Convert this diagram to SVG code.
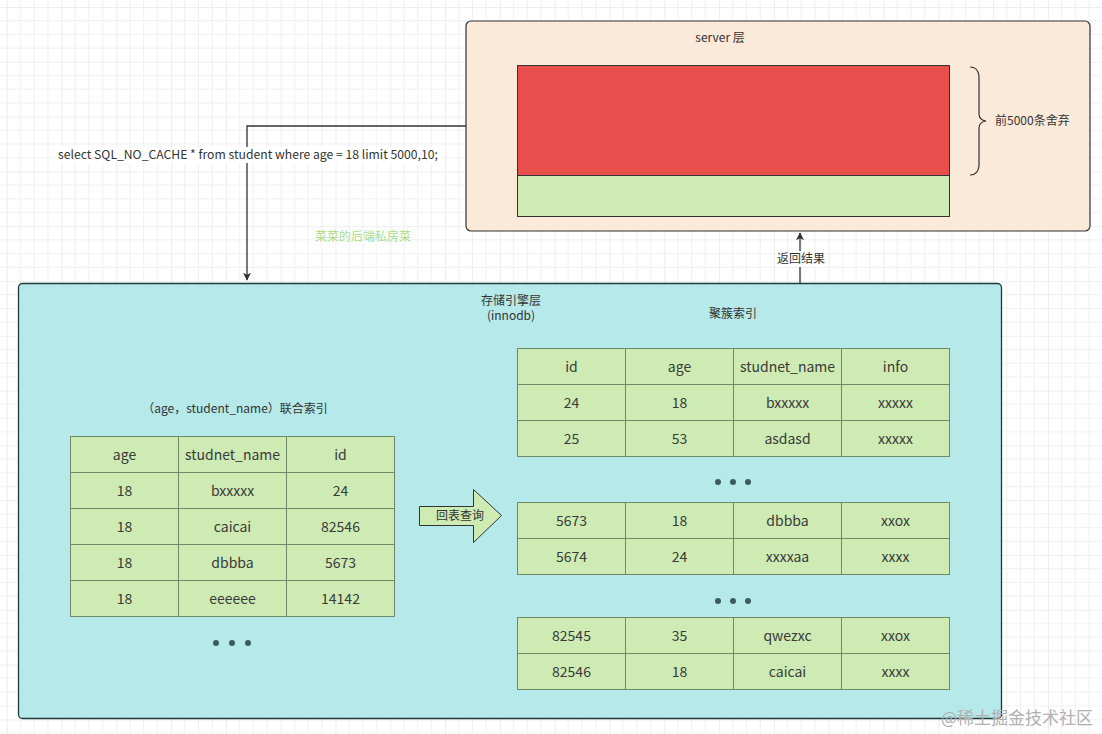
<svg xmlns="http://www.w3.org/2000/svg" width="1102" height="734" viewBox="0 0 1102 734">
<defs>
<pattern id="grid" x="6.7" y="7" width="54.8" height="54.8" patternUnits="userSpaceOnUse">
<path d="M0 0H54.8M0 13.7H54.8M0 27.4H54.8M0 41.1H54.8M0 0V54.8M13.7 0V54.8M27.4 0V54.8M41.1 0V54.8" stroke="#f0f0f0" stroke-width="1" fill="none"/>
<path d="M0 0H54.8M0 0V54.8" stroke="#e6e6e6" stroke-width="1.2" fill="none"/>
</pattern>
<marker id="arr" viewBox="0 0 10 10" refX="9" refY="5" markerWidth="8" markerHeight="10" markerUnits="userSpaceOnUse" orient="auto">
<path d="M0 0L10 5L0 10L2.5 5Z" fill="#333"/>
</marker>
<style>
text{font-family:"Noto Sans CJK SC","Noto Sans",sans-serif;fill:#333;}
.s{font-size:12px;}
.c{font-size:14px;text-anchor:middle;dominant-baseline:central;fill:#3a3a3a;}
.cell{fill:#cdebb3;stroke:#6f8867;stroke-width:1;}
.dot{fill:#3c5c5c;}
.ln{stroke:#333;stroke-width:1.3;fill:none;}
</style>
</defs>
<rect width="1102" height="734" fill="#ffffff"/>
<rect width="1102" height="734" fill="url(#grid)"/>

<g id="server-layer">
<rect x="466" y="21" width="624" height="210" rx="5" fill="#fbe9da" stroke="#333" stroke-width="1.2"/>
<text class="s" x="720" y="42" text-anchor="middle">server 层</text>
<rect x="517.5" y="65.5" width="432" height="110" fill="#e84f4c" stroke="#333" stroke-width="1"/>
<rect x="517.5" y="175.5" width="432" height="41" fill="#cdebb3" stroke="#333" stroke-width="1"/>
<path d="M970 67Q978 67 979 76V114Q979 120 986 121Q979 122 979 128V166Q978 175 970 175" fill="none" stroke="#333" stroke-width="1.2"/>
<text class="s" x="995" y="125">前5000条舍弃</text>
</g>

<g id="storage-layer">
<rect x="18.5" y="283.5" width="983" height="435" rx="4" fill="#b5e9ea" stroke="#1f3a3d" stroke-width="1.3"/>
<text class="s" x="511" y="305" text-anchor="middle">存储引擎层</text>
<text class="s" x="511" y="320" text-anchor="middle">(innodb)</text>
</g>

<g id="clustered-index">
<text class="s" x="733" y="318" text-anchor="middle">聚簇索引</text>
<g id="ct1">
<rect class="cell" x="517.5" y="348.5" width="108" height="36"/><rect class="cell" x="625.5" y="348.5" width="108" height="36"/><rect class="cell" x="733.5" y="348.5" width="108" height="36"/><rect class="cell" x="841.5" y="348.5" width="108" height="36"/>
<rect class="cell" x="517.5" y="384.5" width="108" height="36"/><rect class="cell" x="625.5" y="384.5" width="108" height="36"/><rect class="cell" x="733.5" y="384.5" width="108" height="36"/><rect class="cell" x="841.5" y="384.5" width="108" height="36"/>
<rect class="cell" x="517.5" y="420.5" width="108" height="36"/><rect class="cell" x="625.5" y="420.5" width="108" height="36"/><rect class="cell" x="733.5" y="420.5" width="108" height="36"/><rect class="cell" x="841.5" y="420.5" width="108" height="36"/>
<text class="c" x="571.5" y="365.5">id</text><text class="c" x="679.5" y="365.5">age</text><text class="c" x="787.5" y="365.5">studnet_name</text><text class="c" x="895.5" y="365.5">info</text>
<text class="c" x="571.5" y="401.5">24</text><text class="c" x="679.5" y="401.5">18</text><text class="c" x="787.5" y="401.5">bxxxxx</text><text class="c" x="895.5" y="401.5">xxxxx</text>
<text class="c" x="571.5" y="437.5">25</text><text class="c" x="679.5" y="437.5">53</text><text class="c" x="787.5" y="437.5">asdasd</text><text class="c" x="895.5" y="437.5">xxxxx</text>
</g>
<g id="dots2"><circle class="dot" cx="718" cy="482" r="3"/><circle class="dot" cx="733" cy="482" r="3"/><circle class="dot" cx="748" cy="482" r="3"/></g>
<g id="ct2">
<rect class="cell" x="517.5" y="502.5" width="108" height="36"/><rect class="cell" x="625.5" y="502.5" width="108" height="36"/><rect class="cell" x="733.5" y="502.5" width="108" height="36"/><rect class="cell" x="841.5" y="502.5" width="108" height="36"/>
<rect class="cell" x="517.5" y="538.5" width="108" height="36"/><rect class="cell" x="625.5" y="538.5" width="108" height="36"/><rect class="cell" x="733.5" y="538.5" width="108" height="36"/><rect class="cell" x="841.5" y="538.5" width="108" height="36"/>
<text class="c" x="571.5" y="519.5">5673</text><text class="c" x="679.5" y="519.5">18</text><text class="c" x="787.5" y="519.5">dbbba</text><text class="c" x="895.5" y="519.5">xxox</text>
<text class="c" x="571.5" y="555.5">5674</text><text class="c" x="679.5" y="555.5">24</text><text class="c" x="787.5" y="555.5">xxxxaa</text><text class="c" x="895.5" y="555.5">xxxx</text>
</g>
<g id="dots3"><circle class="dot" cx="718" cy="601" r="3"/><circle class="dot" cx="733" cy="601" r="3"/><circle class="dot" cx="748" cy="601" r="3"/></g>
<g id="ct3">
<rect class="cell" x="517.5" y="617.5" width="108" height="36"/><rect class="cell" x="625.5" y="617.5" width="108" height="36"/><rect class="cell" x="733.5" y="617.5" width="108" height="36"/><rect class="cell" x="841.5" y="617.5" width="108" height="36"/>
<rect class="cell" x="517.5" y="653.5" width="108" height="36"/><rect class="cell" x="625.5" y="653.5" width="108" height="36"/><rect class="cell" x="733.5" y="653.5" width="108" height="36"/><rect class="cell" x="841.5" y="653.5" width="108" height="36"/>
<text class="c" x="571.5" y="634.5">82545</text><text class="c" x="679.5" y="634.5">35</text><text class="c" x="787.5" y="634.5">qwezxc</text><text class="c" x="895.5" y="634.5">xxox</text>
<text class="c" x="571.5" y="670.5">82546</text><text class="c" x="679.5" y="670.5">18</text><text class="c" x="787.5" y="670.5">caicai</text><text class="c" x="895.5" y="670.5">xxxx</text>
</g>
</g>

<g id="composite-index">
<text class="s" x="235" y="413" text-anchor="middle">（age，student_name）联合索引</text>
<rect class="cell" x="70.5" y="436.5" width="108" height="36"/><rect class="cell" x="178.5" y="436.5" width="108" height="36"/><rect class="cell" x="286.5" y="436.5" width="108" height="36"/>
<rect class="cell" x="70.5" y="472.5" width="108" height="36"/><rect class="cell" x="178.5" y="472.5" width="108" height="36"/><rect class="cell" x="286.5" y="472.5" width="108" height="36"/>
<rect class="cell" x="70.5" y="508.5" width="108" height="36"/><rect class="cell" x="178.5" y="508.5" width="108" height="36"/><rect class="cell" x="286.5" y="508.5" width="108" height="36"/>
<rect class="cell" x="70.5" y="544.5" width="108" height="36"/><rect class="cell" x="178.5" y="544.5" width="108" height="36"/><rect class="cell" x="286.5" y="544.5" width="108" height="36"/>
<rect class="cell" x="70.5" y="580.5" width="108" height="36"/><rect class="cell" x="178.5" y="580.5" width="108" height="36"/><rect class="cell" x="286.5" y="580.5" width="108" height="36"/>
<text class="c" x="124.5" y="453.5">age</text><text class="c" x="232.5" y="453.5">studnet_name</text><text class="c" x="340.5" y="453.5">id</text>
<text class="c" x="124.5" y="489.5">18</text><text class="c" x="232.5" y="489.5">bxxxxx</text><text class="c" x="340.5" y="489.5">24</text>
<text class="c" x="124.5" y="525.5">18</text><text class="c" x="232.5" y="525.5">caicai</text><text class="c" x="340.5" y="525.5">82546</text>
<text class="c" x="124.5" y="561.5">18</text><text class="c" x="232.5" y="561.5">dbbba</text><text class="c" x="340.5" y="561.5">5673</text>
<text class="c" x="124.5" y="597.5">18</text><text class="c" x="232.5" y="597.5">eeeeee</text><text class="c" x="340.5" y="597.5">14142</text>
<g id="dots1"><circle class="dot" cx="216" cy="643" r="3"/><circle class="dot" cx="232" cy="643" r="3"/><circle class="dot" cx="248" cy="643" r="3"/></g>
</g>

<g id="lookup-arrow">
<path d="M419.5 506.5H473.5V489.5L501.5 515.5L473.5 542.5V525.5H419.5Z" fill="#cdebb3" stroke="#333" stroke-width="1"/>
<text class="s" x="460" y="520" text-anchor="middle">回表查询</text>
</g>

<g id="connectors">
<path class="ln" d="M466 126H247V280" marker-end="url(#arr)"/>
<path class="ln" d="M800 283V233" marker-end="url(#arr)"/>
<rect x="56" y="147" width="386" height="16" fill="#ffffff"/>
<text x="58" y="159" font-size="12.2">select SQL_NO_CACHE * from student where age = 18 limit 5000,10;</text>
<rect x="776" y="251" width="50" height="16" fill="#ffffff"/>
<text class="s" x="801" y="263" text-anchor="middle">返回结果</text>
</g>

<text x="363" y="241" font-size="12" text-anchor="middle" style="fill:#a6dc8c">菜菜的后端私房菜</text>
<text x="1017" y="724" font-size="17" text-anchor="middle" style="fill:#b0b0b0">@稀土掘金技术社区</text>
</svg>
